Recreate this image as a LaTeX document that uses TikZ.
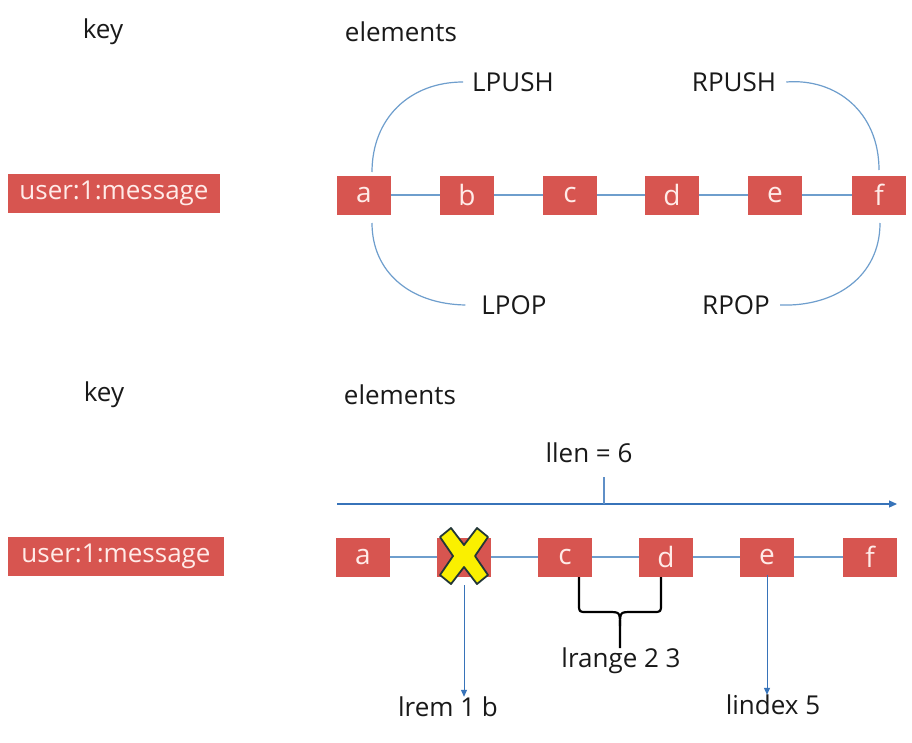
\documentclass[tikz,border=0pt]{standalone}
\usepackage{fontspec}
\setmainfont{Open Sans}
\usetikzlibrary{arrows.meta,calc}
\definecolor{boxred}{RGB}{215,85,80}
\definecolor{boxtext}{RGB}{255,235,232}
\definecolor{linkblue}{RGB}{110,158,205}
\definecolor{arrowblue}{RGB}{55,115,185}
\definecolor{xyellow}{RGB}{250,240,0}
\definecolor{xdark}{RGB}{35,55,55}
\tikzset{
  elem/.style={fill=boxred,text=boxtext,minimum width=54pt,minimum height=39pt,inner sep=0pt,font=\fontsize{28}{30}\selectfont},
  keybox/.style={fill=boxred,text=boxtext,minimum height=39pt,inner sep=0pt,font=\fontsize{26}{28}\selectfont},
  lbl/.style={text=black!90,inner sep=0pt,font=\fontsize{26}{28}\selectfont},
  link/.style={draw=linkblue,line width=1.2pt},
  arr/.style={draw=arrowblue,line width=1.2pt,-{Triangle[length=8pt,width=7pt]}},
  bracestyle/.style={draw=black,line width=2.2pt,line join=round}
}
\begin{document}
\begin{tikzpicture}[x=1pt,y=-1pt]
\useasboundingbox[fill=white] (0,0) rectangle (912,742);
% ---------- top ----------
\node[lbl] (key1) at (103,32) {key};
\node[lbl] (el1) at (401,32) {elements};
\node[keybox,minimum width=212pt] (k1) at (114,193) {user:1:message};
\foreach \n/\x in {a/364,b/467,c/570,d/672,e/775,f/879}
  \node[elem] (t\n) at (\x,195) {\n};
\draw[link] (ta) -- (tb);
\draw[link] (tb) -- (tc);
\draw[link] (tc) -- (td);
\draw[link] (td) -- (te);
\draw[link] (te) -- (tf);
\node[lbl] (lpush) at (513,82) {LPUSH};
\node[lbl] (rpush) at (734,82) {RPUSH};
\node[lbl] (lpop) at (514,305) {LPOP};
\node[lbl] (rpop) at (736,305) {RPOP};
\coordinate (a1) at (372,172);
\coordinate (a2) at (372,223);
\coordinate (f1) at (879,170);
\coordinate (f2) at (880,223);
\draw[link] (a1) .. controls (372,118) and (410,82) .. ([xshift=-9pt]lpush.west);
\draw[link] ([xshift=10pt]rpush.east) .. controls (836,78) and (879,112) .. (f1);
\draw[link] (a2) .. controls (372,272) and (410,304) .. ([xshift=-16pt]lpop.west);
\draw[link] ([xshift=10pt]rpop.east) .. controls (836,307) and (880,276) .. (f2);
% ---------- bottom ----------
\node[lbl] (key2) at (104,395) {key};
\node[lbl] (el2) at (400,395) {elements};
\node[keybox,minimum width=216pt] (k2) at (116,556) {user:1:message};
\foreach \n/\x in {a/363,b/464,c/565,d/666,e/767,f/870}
  \node[elem] (b\n) at (\x,557) {\n};
\draw[link] (ba) -- (bb);
\draw[link] (bb) -- (bc);
\draw[link] (bc) -- (bd);
\draw[link] (bd) -- (be);
\draw[link] (be) -- (bf);
% X mark
\begin{scope}[shift={(464,556)}]
\filldraw[fill=xyellow,draw=xdark,line width=1.8pt,line join=round]
  (-24,-19) -- (-13,-28) -- (0,-11) -- (13,-28) -- (24,-19) -- (11,0) -- (24,19) -- (13,28) -- (0,11) -- (-13,28) -- (-24,19) -- (-11,0) -- cycle;
\end{scope}
% llen
\node[lbl] (llen) at (589,453) {llen = 6};
\coordinate (lstart) at (337,504);
\coordinate (lend) at (897,504);
\coordinate (ttop) at (604,477);
\coordinate (tbot) at (604,504);
\draw[arr] (lstart) -- (lend);
\draw[link,draw=arrowblue!80] (ttop) -- (tbot);
% lrem
\node[lbl] (lrem) at (448,707) {lrem 1 b};
\coordinate (xbot) at (464,585);
\draw[arr,line width=1pt,-{Triangle[length=7pt,width=6pt]}] (xbot) -- (lrem.north -| xbot) ;
% lindex
\node[lbl] (lindex) at (773,705) {lindex 5};
\draw[arr,line width=1pt,-{Triangle[length=7pt,width=6pt]}] ([yshift=2pt]be.south) -- (lindex.north -| be.south);
% lrange brace
\node[lbl] (lrange) at (621,661) {lrange 2 3};
\coordinate (bl) at (579,577);
\coordinate (br) at (661,577);
\coordinate (bm) at (620,648);
\draw[bracestyle] (bl) -- (579,604) .. controls (579,612) .. (587,612) -- (608,612) .. controls (620,612) .. (620,626) -- (bm);
\draw[bracestyle] (br) -- (661,604) .. controls (661,612) .. (653,612) -- (632,612) .. controls (620,612) .. (620,626);
\end{tikzpicture}
\end{document}
